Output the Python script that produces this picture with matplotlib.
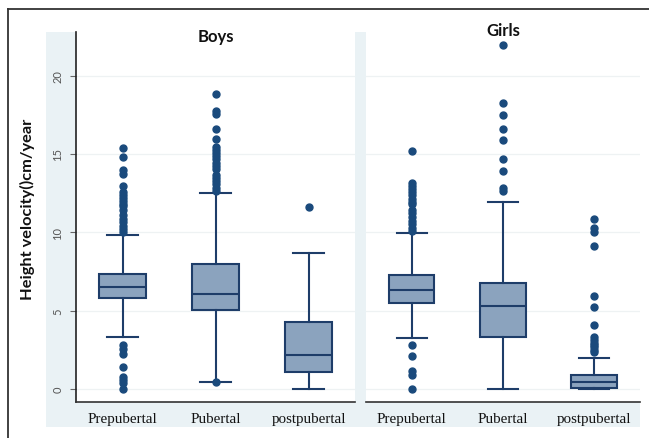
import matplotlib
matplotlib.use("Agg")
import matplotlib.pyplot as plt
from matplotlib.lines import Line2D

# ---------------- data ----------------
categories = ["Prepubertal", "Pubertal", "postpubertal"]
panels = ["Boys", "Girls"]

boys_med = [6.53, 6.06, 2.19]
boys_q1 = [5.80, 5.06, 1.06]
boys_q3 = [7.35, 7.98, 4.30]
boys_lo = [3.30, 0.47, 0.00]
boys_hi = [9.80, 12.50, 8.68]
boys_fliers_pre = [15.35, 14.8, 13.95, 13.75, 12.95, 12.55, 12.35, 12.2, 12.0, 11.8,
                   11.7, 11.4, 11.1, 10.85, 10.65, 10.4, 10.2, 10.0,
                   2.8, 2.55, 2.25, 1.4, 0.75, 0.6, 0.4, 0.0]
boys_fliers_pub = [18.83, 17.75, 17.55, 16.6, 15.95, 15.45, 15.25, 15.05, 14.85, 14.65,
                   14.45, 14.25, 14.05, 13.65, 13.45, 13.25, 13.05, 12.85, 12.65, 0.45]
boys_fliers_post = [11.6]

girls_med = [6.34, 5.28, 0.43]
girls_q1 = [5.49, 3.30, 0.04]
girls_q3 = [7.30, 6.77, 0.91]
girls_lo = [3.28, 0.00, 0.00]
girls_hi = [9.96, 11.91, 1.98]
girls_fliers_pre = [15.17, 13.15, 12.95, 12.75, 12.55, 12.35, 12.15, 11.95, 11.8,
                    11.4, 11.2, 10.95, 10.75, 10.5, 10.3, 10.1,
                    2.8, 2.1, 1.15, 0.9, 0.03]
girls_fliers_pub = [21.97, 18.23, 17.5, 16.6, 15.9, 14.7, 13.9, 12.8, 12.65]
girls_fliers_post = [10.85, 10.25, 10.0, 9.1, 5.92, 5.21, 4.08, 3.3, 3.1, 2.95, 2.8,
                     2.65, 2.5, 2.35]

y_ticks = [0, 5, 10, 15, 20]
y_label = "Height velocity()cm/year"

# ---------------- style ----------------
W, H = 649, 439
BOX_FACE = "#8ba3be"
EDGE = "#1e3d69"
FLIER = "#1a4a7c"
STRIP = "#eaf2f5"
GRID = "#eef2f3"
SANS = ["Lato", "DejaVu Sans"]
SERIF = ["Liberation Serif", "DejaVu Serif"]

fig = plt.figure(figsize=(W / 100, H / 100), dpi=100)
fig.patch.set_facecolor("white")


def fr(x0, y0, x1, y1):
    """pixel box (top-left origin) -> figure fraction rect"""
    return [x0 / W, (H - y1) / H, (x1 - x0) / W, (y1 - y0) / H]


# light background strips of each panel
for rect in (fr(46, 33, 355, 428), fr(353, 33, 640, 428)):
    bg = fig.add_axes(rect, zorder=0)
    bg.set_facecolor(STRIP)
    bg.set_xticks([]); bg.set_yticks([])
    for s in bg.spines.values():
        s.set_visible(False)

ax_b = fig.add_axes(fr(76, 33, 355, 403), zorder=1)
ax_g = fig.add_axes(fr(366, 33, 640, 403), zorder=1)


def make_stats(med, q1, q3, lo, hi, fliers):
    out = []
    for i in range(len(med)):
        out.append(dict(med=med[i], q1=q1[i], q3=q3[i], whislo=lo[i],
                        whishi=hi[i], fliers=fliers[i], label=categories[i]))
    return out


stats_b = make_stats(boys_med, boys_q1, boys_q3, boys_lo, boys_hi,
                     [boys_fliers_pre, boys_fliers_pub, boys_fliers_post])
stats_g = make_stats(girls_med, girls_q1, girls_q3, girls_lo, girls_hi,
                     [girls_fliers_pre, girls_fliers_pub, girls_fliers_post])

for ax, stats, title, ty in ((ax_b, stats_b, panels[0], 37), (ax_g, stats_g, panels[1], 31)):
    ax.set_facecolor("white")
    ax.bxp(stats, positions=[1, 2, 3], widths=0.5, capwidths=0.33,
           patch_artist=True,
           boxprops=dict(facecolor=BOX_FACE, edgecolor=EDGE, linewidth=1.5),
           medianprops=dict(color=EDGE, linewidth=1.5),
           whiskerprops=dict(color=EDGE, linewidth=1.5),
           capprops=dict(color=EDGE, linewidth=1.5),
           flierprops=dict(marker="o", markerfacecolor=FLIER, markeredgecolor=FLIER,
                           markersize=5, linestyle="none"))
    ax.set_xlim(0.5, 3.5)
    ax.set_ylim(-0.83, 22.78)
    for v in y_ticks:
        ax.axhline(v, color=GRID, linewidth=0.9, zorder=0)
    ax.set_xticks([1, 2, 3])
    ax.set_xticklabels(categories, fontfamily=SERIF, fontsize=10.8, color="#111111")
    ax.tick_params(axis="x", length=0, pad=7)
    for s in ("top", "right"):
        ax.spines[s].set_visible(False)
    ax.spines["bottom"].set_color("#333333")
    ax.spines["bottom"].set_linewidth(1.2)
    ax.text(0.5, 1 - (ty - 33) / 370, title, transform=ax.transAxes, ha="center",
            va="center", fontfamily=SANS, fontweight="bold", fontsize=12, color="#111111")

ax_b.set_yticks(y_ticks)
ax_b.set_yticklabels([str(v) for v in y_ticks], rotation=90, va="center",
                     fontfamily=SANS, fontsize=8, color="#555555")
ax_b.tick_params(axis="y", length=4, width=0.8, color="#666666", pad=5)
ax_b.spines["left"].set_color("#222222")
ax_b.spines["left"].set_linewidth(1.2)

ax_g.set_yticks([])
ax_g.spines["left"].set_visible(False)

fig.text(27 / W, (H - 209) / H, y_label, rotation=90, ha="center", va="center",
         fontfamily=SANS, fontweight="bold", fontsize=11.8, color="#111111")

# outer frame (top and left)
fig.add_artist(Line2D([8 / W, 1.0], [(H - 10) / H, (H - 10) / H], transform=fig.transFigure,
                      color="#333333", linewidth=1.3))
fig.add_artist(Line2D([8 / W, 8 / W], [0, (H - 10) / H], transform=fig.transFigure,
                      color="#333333", linewidth=1.3))

fig.savefig("out.png", dpi=100, facecolor="white")
